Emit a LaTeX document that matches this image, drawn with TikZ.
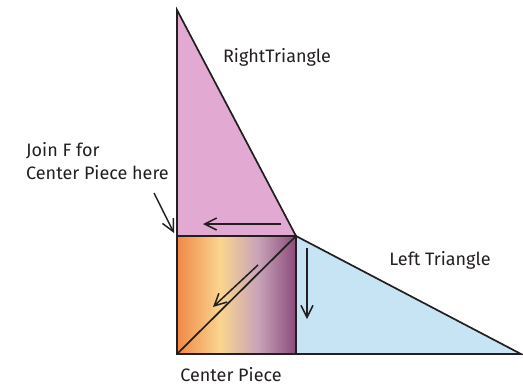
\documentclass[tikz,border=0pt]{standalone}
\usepackage{fontspec}
\setmainfont{Fira Sans}
\usetikzlibrary{arrows.meta}
\definecolor{pinkfill}{HTML}{E2A9D3}
\definecolor{bluefill}{HTML}{C6E4F4}
\definecolor{gOrange}{HTML}{F08848}
\definecolor{gYellow}{HTML}{FAD58E}
\definecolor{gMauve}{HTML}{C9A3B8}
\definecolor{gPurple}{HTML}{8A4C7C}
\definecolor{edge}{HTML}{231F20}
\tikzset{
  piece/.style={draw=edge, line width=1.7pt, line join=miter},
  flow/.style={draw=edge, line width=1.5pt, -{Straight Barb[length=12pt,width=12pt,line width=1.5pt]}},
  lbl/.style={font=\fontsize{18}{23}\selectfont, text=edge, inner sep=0pt}
}
\begin{document}
\begin{tikzpicture}[x=1pt,y=-1pt]
\useasboundingbox (0,0) rectangle (523,386);
\coordinate (apex) at (177,10);
\coordinate (tl) at (177,236);
\coordinate (tr) at (296,236);
\coordinate (bl) at (177,354);
\coordinate (br) at (296,354);
\coordinate (tip) at (521,354);
% right triangle (pink)
\fill[pinkfill] (apex) -- (tr) -- (tl) -- cycle;
% left triangle (blue)
\fill[bluefill] (tr) -- (tip) -- (br) -- cycle;
% center piece gradient
\shade[left color=gOrange, right color=gYellow] (177,236) rectangle (220,354);
\shade[left color=gYellow, right color=gMauve] (220,236) rectangle (258,354);
\shade[left color=gMauve, right color=gPurple] (258,236) rectangle (296,354);
% outlines
\draw[piece] (apex) -- (tr) -- (tl) -- cycle;
\draw[piece] (tr) -- (tip) -- (br) -- cycle;
\draw[piece] (tl) rectangle (br);
\draw[piece] (tr) -- (bl);
% arrows
\coordinate (a1s) at (281,224);
\coordinate (a1e) at (203,224);
\draw[flow] (a1s) -- (a1e);
\coordinate (a2s) at (258,265);
\coordinate (a2e) at (213,307);
\draw[flow] (a2s) -- (a2e);
\coordinate (a3s) at (307,248);
\coordinate (a3e) at (307,319);
\draw[flow] (a3s) -- (a3e);
% labels
\node[lbl] (rt) at (277,57) {RightTriangle};
\node[lbl, align=left, anchor=north west] (join) at (26,142) {Join F for\\Center Piece here};
\node[lbl] (lt) at (440,260) {Left Triangle};
\node[lbl] (cp) at (231,375) {Center Piece};
\coordinate (joinstart) at (154,193);
\coordinate (jointip) at (174,233);
\draw[flow] (joinstart) -- (jointip);
\end{tikzpicture}
\end{document}
